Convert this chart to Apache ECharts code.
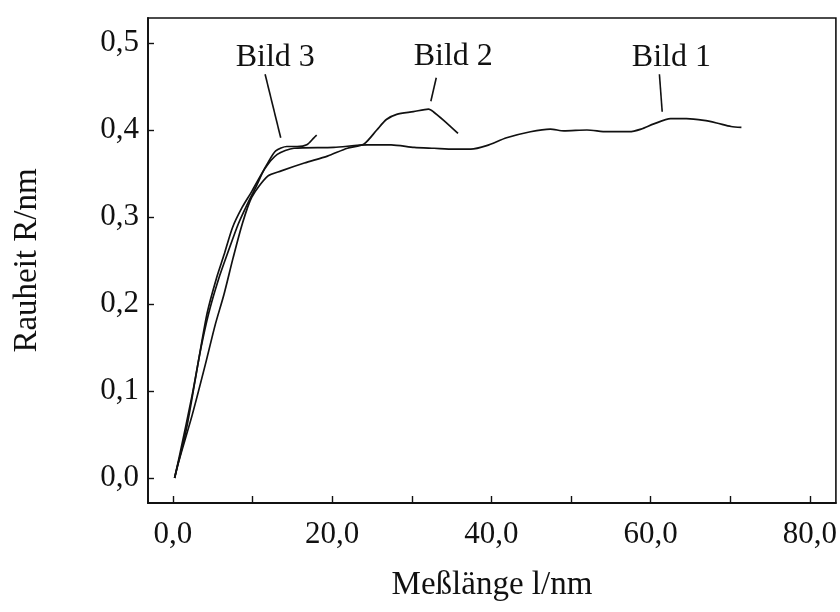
<!DOCTYPE html>
<html>
<head>
<meta charset="utf-8">
<script src="https://cdn.jsdelivr.net/npm/echarts@6/dist/echarts.min.js"></script>
<style>html,body{margin:0;padding:0;background:#fff}#c{width:840px;height:612px}</style>
</head>
<body>
<div id="c"></div>
<script>
// ---- data ----
const bild1X = [0.2,0.9,2.4,3.5,4.5,5.7,7.0,8.2,9.4,10.5,11.5,13.1,15.2,20.2,24.4,27.4,30.3,32.8,35.3,37.4,39.4,41.9,44.9,47.4,49.1,52.0,54.5,57.3,58.8,60.4,62.5,64.5,66.7,68.3,70.1,71.4];
const bild1Y = [0.0,0.029,0.095,0.149,0.190,0.228,0.262,0.292,0.316,0.336,0.355,0.372,0.379,0.380,0.383,0.383,0.380,0.379,0.378,0.378,0.382,0.391,0.398,0.401,0.399,0.400,0.398,0.398,0.401,0.407,0.413,0.413,0.411,0.408,0.404,0.403];
const bild2X = [0.2,0.65,2.4,4.05,5.3,6.4,7.55,8.7,9.9,11.9,13.6,16.5,19.4,21.9,24.0,25.6,26.8,28.1,30.2,32.1,32.7,34.0,35.8];
const bild2Y = [0.0,0.017,0.072,0.130,0.176,0.211,0.253,0.292,0.323,0.347,0.353,0.362,0.370,0.379,0.384,0.400,0.412,0.418,0.421,0.424,0.421,0.411,0.396];
const bild3X = [0.2,1.7,3.17,4.3,5.47,6.41,7.48,8.68,9.9,11.84,12.9,14.3,15.6,16.8,17.7,18.05];
const bild3Y = [0.0,0.057,0.133,0.190,0.230,0.2565,0.288,0.311,0.3295,0.361,0.376,0.381,0.381,0.383,0.391,0.394];

const xTicks = [0,10,20,30,40,50,60,70,80];
const xLabels = [0,20,40,60,80];
const yTicks = [0,0.1,0.2,0.3,0.4,0.5];

const seriesNames = ['Bild 1','Bild 2','Bild 3'];
// annotation anchors (data space): label position, leader line top, leader line bottom
const labelPos = [[62.6,0.483],[35.2,0.484],[12.85,0.483]];
const leaderTop = [[61.1,0.464],[33.07,0.460],[11.57,0.464]];
const leaderBottom = [[61.45,0.421],[32.39,0.433],[13.53,0.391]];

const FONT = "'Liberation Serif','Times New Roman',serif";
const fmt = v => v.toFixed(1).replace('.', ',');
const pairs = (xs, ys) => xs.map((x, i) => [x, ys[i]]);
const allData = [pairs(bild1X,bild1Y), pairs(bild2X,bild2Y), pairs(bild3X,bild3Y)];

const series = allData.map((d, i) => ({
  name: seriesNames[i],
  type: 'line',
  data: d,
  showSymbol: false,
  symbol: 'none',
  smooth: 0.25,
  lineStyle: {color: '#111', width: 1.7},
  z: 3,
  markLine: {
    silent: true,
    symbol: ['none','none'],
    lineStyle: {color: '#111', width: 1.6, type: 'solid'},
    label: {show: false},
    data: [[{coord: leaderTop[i]}, {coord: leaderBottom[i]}]]
  },
  markPoint: {
    silent: true,
    symbol: 'circle',
    symbolSize: 1,
    itemStyle: {color: 'rgba(0,0,0,0)'},
    label: {show: true, position: 'inside', formatter: seriesNames[i], color: '#111', fontFamily: FONT, fontSize: 32},
    data: [{coord: labelPos[i]}]
  }
}));

const chart = echarts.init(document.getElementById('c'), null, {renderer: 'canvas'});
chart.setOption({
  backgroundColor: '#fff',
  animation: false,
  grid: {left: 148, top: 18, width: 688, height: 485, show: true, borderColor: '#111', borderWidth: 1.6, backgroundColor: 'transparent'},
  xAxis: {
    type: 'value', min: -3.14, max: 83.27,
    name: 'Meßlänge l/nm', nameLocation: 'middle', nameGap: 66,
    nameTextStyle: {fontFamily: FONT, fontSize: 33, color: '#111'},
    axisLine: {show: true, onZero: false, lineStyle: {color: '#111', width: 1.8}},
    axisTick: {show: true, inside: true, length: 7, customValues: xTicks, lineStyle: {color: '#111', width: 1.4}},
    axisLabel: {show: true, customValues: xLabels, formatter: fmt, margin: 16, fontFamily: FONT, fontSize: 31, color: '#111'},
    splitLine: {show: false}
  },
  yAxis: {
    type: 'value', min: -0.0287, max: 0.5287,
    name: 'Rauheit R/nm', nameLocation: 'middle', nameGap: 104,
    nameTextStyle: {fontFamily: FONT, fontSize: 33, color: '#111'},
    axisLine: {show: true, onZero: false, lineStyle: {color: '#111', width: 1.8}},
    axisTick: {show: true, inside: true, length: 6, customValues: yTicks, lineStyle: {color: '#111', width: 1.4}},
    axisLabel: {show: true, customValues: yTicks, formatter: fmt, margin: 9, fontFamily: FONT, fontSize: 31, color: '#111'},
    splitLine: {show: false}
  },
  series: series
});
</script>
</body>
</html>
